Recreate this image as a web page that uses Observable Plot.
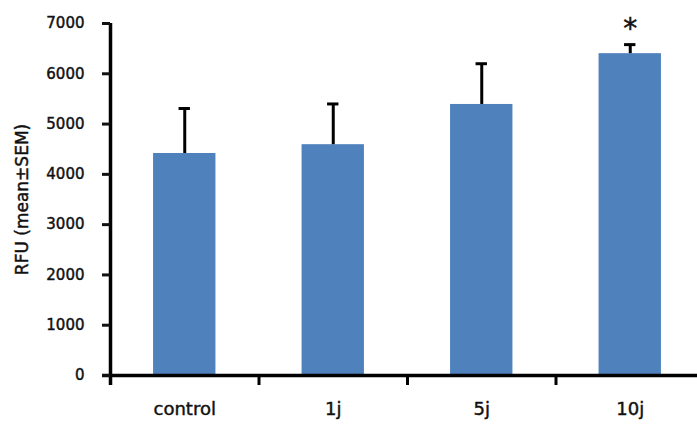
<!DOCTYPE html>
<html>
<head>
<meta charset="utf-8">
<script src="https://cdn.jsdelivr.net/npm/d3@7"></script>
<script src="https://cdn.jsdelivr.net/npm/@observablehq/plot@0.6"></script>
<style>
  html, body { margin: 0; padding: 0; background: #fff; }
  #chart svg text { stroke: #111; stroke-width: 0.45px; }
</style>
</head>
<body>
<div id="chart"></div>
<script>
// ---- data ----
const categories = ["control", "1j", "5j", "10j"];
const means = [4415, 4590, 5390, 6400];
const errUpper = [5310, 5400, 6200, 6580];   // mean + SEM
const significance = ["", "", "", "*"];
const yTicks = [0, 1000, 2000, 3000, 4000, 5000, 6000, 7000];
const yLabel = "RFU (mean±SEM)";

const data = categories.map((c, i) => ({
  cat: c, mean: means[i], hi: errUpper[i], sig: significance[i]
}));

const W = 697, H = 426;
const xRange = [110, 704];
const step = (xRange[1] - xRange[0]) / categories.length;
const barBlue = "#4F81BD";

const chart = Plot.plot({
  width: W,
  height: H,
  marginLeft: 110,
  marginRight: 0,
  marginTop: 23,
  marginBottom: 51,
  style: { fontFamily: "DejaVu Sans", color: "#111", background: "#fff" },
  x: { domain: categories, range: xRange, paddingInner: 0.58, paddingOuter: 0.29, round: false },
  y: { domain: [0, 7000] },
  marks: [
    Plot.barY(data, { x: "cat", y: "mean", fill: barBlue }),
    Plot.ruleX(data, { x: "cat", y1: "mean", y2: "hi", stroke: "#000", strokeWidth: 3 }),
    Plot.tickY(data, { x: "cat", y: "hi", stroke: "#000", strokeWidth: 3, insetLeft: 25.5, insetRight: 25.5 }),
    Plot.text(data, { x: "cat", y: "hi", text: "sig", dy: -16, fontSize: 28, lineAnchor: "middle", fill: "#111" }),
    // y axis line (extends slightly below zero)
    Plot.ruleX([categories[0]], { x: d => d, dx: -step / 2, y1: 7000, y2: 0, insetBottom: -10, stroke: "#000", strokeWidth: 3.5 }),
    // category boundary ticks on the x axis
    Plot.ruleX(categories.slice(1), { x: d => d, dx: -step / 2, y1: 0, y2: 0, insetBottom: -10, stroke: "#000", strokeWidth: 3 }),
    // x axis line
    Plot.ruleY([0], { stroke: "#000", strokeWidth: 3.5, insetLeft: -8 }),
    Plot.axisY({ ticks: yTicks, tickSize: 8, tickPadding: 18, tickFormat: d => String(d), fontSize: 15, label: null, strokeWidth: 3 }),
    Plot.axisX({ tickSize: 0, tickPadding: 27, fontSize: 18, label: null }),
    Plot.text([yLabel], { frameAnchor: "left", dx: -88, rotate: -90, textAnchor: "middle", lineAnchor: "middle", fontSize: 17, fill: "#111" })
  ]
});

document.getElementById("chart").appendChild(chart);
</script>
</body>
</html>
